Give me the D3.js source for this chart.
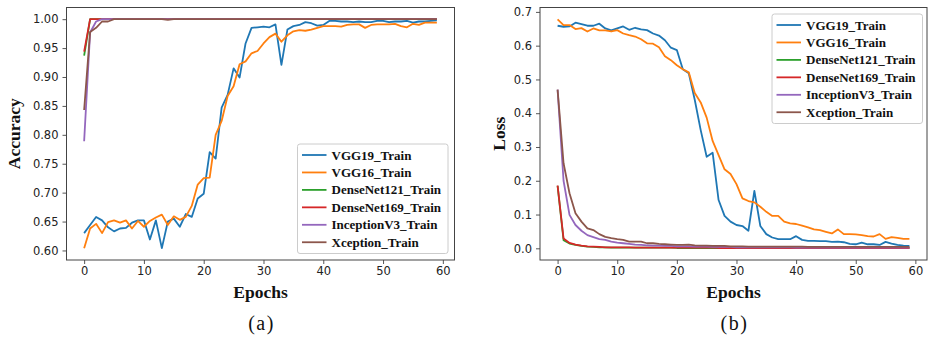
<!DOCTYPE html>
<html>
<head>
<meta charset="utf-8">
<script src="https://cdn.jsdelivr.net/npm/d3@7"></script>
<style>
  body { margin: 0; background: #fff; }
  svg { display: block; }
</style>
</head>
<body>
<div id="chart"></div>
<script>
// series names, in drawing order
const seriesNames = ["VGG19_Train", "VGG16_Train", "DenseNet121_Train", "DenseNet169_Train", "InceptionV3_Train", "Xception_Train"];
const seriesColors = ["#1f77b4", "#ff7f0e", "#2ca02c", "#d62728", "#9467bd", "#8c564b"];

const xTicks = [0, 10, 20, 30, 40, 50, 60];
const accTicks = [0.60, 0.65, 0.70, 0.75, 0.80, 0.85, 0.90, 0.95, 1.00];
const lossTicks = [0.0, 0.1, 0.2, 0.3, 0.4, 0.5, 0.6, 0.7];

// (a) training accuracy per epoch
const vgg19Acc = [
  0.630, 0.644, 0.658, 0.652, 0.640, 0.633, 0.638, 0.639, 0.648, 0.652,
  0.652, 0.619, 0.652, 0.604, 0.650, 0.655, 0.641, 0.663, 0.658, 0.690,
  0.698, 0.770, 0.759, 0.847, 0.869, 0.915, 0.899, 0.958, 0.985, 0.986,
  0.987, 0.986, 0.991, 0.921, 0.982, 0.988, 0.990, 0.995, 0.993, 0.989,
  0.990, 0.997, 0.997, 0.996, 0.996, 0.995, 0.996, 0.995, 0.995, 0.997,
  0.997, 0.995, 0.996, 0.996, 0.997, 0.994, 0.996, 0.996, 0.997, 0.998
];
const vgg16Acc = [
  0.604, 0.638, 0.646, 0.630, 0.649, 0.652, 0.648, 0.652, 0.638, 0.651,
  0.641, 0.651, 0.657, 0.662, 0.644, 0.659, 0.653, 0.658, 0.677, 0.714,
  0.725, 0.726, 0.800, 0.824, 0.867, 0.884, 0.922, 0.927, 0.941, 0.945,
  0.958, 0.969, 0.975, 0.961, 0.972, 0.979, 0.981, 0.980, 0.982, 0.985,
  0.988, 0.988, 0.988, 0.987, 0.990, 0.991, 0.991, 0.985, 0.990, 0.991,
  0.991, 0.991, 0.992, 0.988, 0.986, 0.992, 0.990, 0.994, 0.994, 0.994
];
const densenet121Acc = [
  0.937, 1.000, 1.000, 1.000, 1.000, 1.000, 1.000, 1.000, 1.000, 1.000,
  1.000, 1.000, 1.000, 1.000, 1.000, 1.000, 1.000, 1.000, 1.000, 1.000,
  1.000, 1.000, 1.000, 1.000, 1.000, 1.000, 1.000, 1.000, 1.000, 1.000,
  1.000, 1.000, 1.000, 1.000, 1.000, 1.000, 1.000, 1.000, 1.000, 1.000,
  1.000, 1.000, 1.000, 1.000, 1.000, 1.000, 1.000, 1.000, 1.000, 1.000,
  1.000, 1.000, 1.000, 1.000, 1.000, 1.000, 1.000, 1.000, 1.000, 1.000
];
const densenet169Acc = [
  0.944, 1.000, 1.000, 1.000, 1.000, 1.000, 1.000, 1.000, 1.000, 1.000,
  1.000, 1.000, 1.000, 1.000, 1.000, 1.000, 1.000, 1.000, 1.000, 1.000,
  1.000, 1.000, 1.000, 1.000, 1.000, 1.000, 1.000, 1.000, 1.000, 1.000,
  1.000, 1.000, 1.000, 1.000, 1.000, 1.000, 1.000, 1.000, 1.000, 1.000,
  1.000, 1.000, 1.000, 1.000, 1.000, 1.000, 1.000, 1.000, 1.000, 1.000,
  1.000, 1.000, 1.000, 1.000, 1.000, 1.000, 1.000, 1.000, 1.000, 1.000
];
const inceptionAcc = [
  0.789, 0.977, 0.996, 1.000, 1.000, 1.000, 1.000, 1.000, 1.000, 1.000,
  1.000, 1.000, 1.000, 1.000, 1.000, 1.000, 1.000, 1.000, 1.000, 1.000,
  1.000, 1.000, 1.000, 1.000, 1.000, 1.000, 1.000, 1.000, 1.000, 1.000,
  1.000, 1.000, 1.000, 1.000, 1.000, 1.000, 1.000, 1.000, 1.000, 1.000,
  1.000, 1.000, 1.000, 1.000, 1.000, 1.000, 1.000, 1.000, 1.000, 1.000,
  1.000, 1.000, 1.000, 1.000, 1.000, 1.000, 1.000, 1.000, 1.000, 1.000
];
const xceptionAcc = [
  0.843, 0.978, 0.985, 0.996, 0.996, 1.000, 1.000, 1.000, 1.000, 1.000,
  1.000, 1.000, 1.000, 1.000, 0.999, 1.000, 1.000, 1.000, 1.000, 1.000,
  1.000, 1.000, 1.000, 1.000, 1.000, 1.000, 1.000, 1.000, 1.000, 1.000,
  1.000, 1.000, 1.000, 1.000, 1.000, 1.000, 1.000, 1.000, 1.000, 1.000,
  1.000, 1.000, 1.000, 1.000, 1.000, 1.000, 1.000, 1.000, 1.000, 1.000,
  1.000, 1.000, 1.000, 1.000, 1.000, 1.000, 1.000, 1.000, 1.000, 1.000
];

// (b) training loss per epoch
const vgg19Loss = [
  0.659, 0.656, 0.657, 0.668, 0.664, 0.659, 0.659, 0.665, 0.651, 0.645,
  0.651, 0.657, 0.647, 0.653, 0.648, 0.646, 0.636, 0.630, 0.616, 0.594,
  0.587, 0.530, 0.518, 0.440, 0.350, 0.271, 0.283, 0.143, 0.096, 0.079,
  0.069, 0.066, 0.052, 0.170, 0.066, 0.042, 0.032, 0.027, 0.027, 0.027,
  0.036, 0.025, 0.022, 0.022, 0.021, 0.021, 0.019, 0.020, 0.018, 0.013,
  0.012, 0.017, 0.012, 0.012, 0.010, 0.019, 0.014, 0.010, 0.008, 0.007
];
const vgg16Loss = [
  0.678, 0.661, 0.661, 0.649, 0.652, 0.642, 0.651, 0.645, 0.645, 0.642,
  0.646, 0.636, 0.631, 0.627, 0.619, 0.607, 0.606, 0.595, 0.569, 0.557,
  0.542, 0.530, 0.521, 0.460, 0.432, 0.387, 0.318, 0.276, 0.234, 0.220,
  0.190, 0.148, 0.140, 0.136, 0.123, 0.108, 0.096, 0.096, 0.079, 0.074,
  0.072, 0.067, 0.062, 0.056, 0.054, 0.049, 0.044, 0.056, 0.042, 0.042,
  0.041, 0.039, 0.036, 0.035, 0.042, 0.028, 0.033, 0.031, 0.028, 0.028
];
const densenet121Loss = [
  0.185, 0.024, 0.014, 0.010, 0.007, 0.005, 0.004, 0.003, 0.003, 0.002,
  0.002, 0.002, 0.002, 0.002, 0.002, 0.002, 0.002, 0.002, 0.002, 0.002,
  0.001, 0.001, 0.001, 0.001, 0.001, 0.001, 0.001, 0.001, 0.001, 0.001,
  0.001, 0.001, 0.001, 0.001, 0.001, 0.001, 0.001, 0.001, 0.001, 0.001,
  0.001, 0.001, 0.001, 0.001, 0.001, 0.001, 0.001, 0.001, 0.001, 0.001,
  0.001, 0.001, 0.001, 0.001, 0.001, 0.001, 0.001, 0.001, 0.001, 0.001
];
const densenet169Loss = [
  0.186, 0.029, 0.016, 0.011, 0.008, 0.006, 0.005, 0.004, 0.003, 0.003,
  0.003, 0.003, 0.003, 0.002, 0.002, 0.002, 0.002, 0.002, 0.002, 0.002,
  0.002, 0.002, 0.002, 0.002, 0.002, 0.002, 0.002, 0.001, 0.001, 0.001,
  0.001, 0.001, 0.001, 0.001, 0.001, 0.001, 0.001, 0.001, 0.001, 0.001,
  0.001, 0.001, 0.001, 0.001, 0.001, 0.001, 0.001, 0.001, 0.001, 0.001,
  0.001, 0.001, 0.001, 0.001, 0.001, 0.001, 0.001, 0.001, 0.001, 0.001
];
const inceptionLoss = [
  0.470, 0.200, 0.099, 0.069, 0.052, 0.039, 0.033, 0.027, 0.025, 0.020,
  0.017, 0.015, 0.013, 0.011, 0.010, 0.009, 0.008, 0.008, 0.007, 0.007,
  0.006, 0.006, 0.006, 0.005, 0.005, 0.005, 0.004, 0.004, 0.004, 0.004,
  0.003, 0.003, 0.003, 0.003, 0.003, 0.003, 0.003, 0.003, 0.003, 0.003,
  0.002, 0.002, 0.002, 0.002, 0.002, 0.002, 0.002, 0.002, 0.002, 0.002,
  0.002, 0.002, 0.002, 0.002, 0.002, 0.002, 0.002, 0.002, 0.002, 0.002
];
const xceptionLoss = [
  0.470, 0.252, 0.163, 0.104, 0.079, 0.059, 0.054, 0.042, 0.034, 0.030,
  0.027, 0.025, 0.020, 0.020, 0.020, 0.015, 0.015, 0.013, 0.012, 0.011,
  0.010, 0.010, 0.011, 0.009, 0.008, 0.008, 0.007, 0.007, 0.007, 0.006,
  0.006, 0.006, 0.005, 0.005, 0.005, 0.005, 0.005, 0.005, 0.005, 0.005,
  0.005, 0.005, 0.004, 0.004, 0.004, 0.004, 0.004, 0.004, 0.004, 0.004,
  0.004, 0.004, 0.004, 0.004, 0.004, 0.004, 0.004, 0.004, 0.004, 0.004
];

const accSeries = [vgg19Acc, vgg16Acc, densenet121Acc, densenet169Acc, inceptionAcc, xceptionAcc];
const lossSeries = [vgg19Loss, vgg16Loss, densenet121Loss, densenet169Loss, inceptionLoss, xceptionLoss];

const svg = d3.select("#chart")
    .append("svg")
    .attr("width", 929)
    .attr("height", 337);

const serif = "'Liberation Serif', 'Times New Roman', serif";
const sans = "'DejaVu Sans', sans-serif";

function drawPanel(opts) {
    const { series, left, right, top, bottom, yDomain, yTicks, yFormat,
            yLabel, yLabelX, caption, legend } = opts;

    const x = d3.scaleLinear().domain([-2.95, 61.95]).range([left, right]);
    const y = d3.scaleLinear().domain(yDomain).range([bottom, top]);

    const g = svg.append("g");

    // axes
    const xAxis = g.append("g")
        .attr("transform", `translate(0,${bottom})`)
        .call(d3.axisBottom(x).tickValues(xTicks).tickSize(4).tickSizeOuter(0).tickPadding(3));
    const yAxis = g.append("g")
        .attr("transform", `translate(${left},0)`)
        .call(d3.axisLeft(y).tickValues(yTicks).tickFormat(d3.format(yFormat)).tickSize(4).tickSizeOuter(0).tickPadding(4));

    [xAxis, yAxis].forEach((a) => {
        a.select(".domain").remove();
        a.selectAll("line").attr("stroke", "#444").attr("stroke-width", 0.9);
        a.selectAll("text")
            .attr("fill", "#222")
            .style("font-family", sans)
            .style("font-size", "11.5px");
    });

    // lines
    const line = d3.line()
        .x((d, i) => x(i))
        .y((d) => y(d));

    g.append("g")
        .selectAll("path")
        .data(series)
        .join("path")
        .attr("d", line)
        .attr("fill", "none")
        .attr("stroke", (d, i) => seriesColors[i])
        .attr("stroke-width", 1.8)
        .attr("stroke-linejoin", "round");

    // frame
    g.append("rect")
        .attr("x", left)
        .attr("y", top)
        .attr("width", right - left)
        .attr("height", bottom - top)
        .attr("fill", "none")
        .attr("stroke", "#444")
        .attr("stroke-width", 1);

    // axis labels
    g.append("text")
        .attr("x", (left + right) / 2)
        .attr("y", 298)
        .attr("text-anchor", "middle")
        .style("font-family", serif)
        .style("font-weight", "bold")
        .style("font-size", "17.5px")
        .attr("fill", "#111")
        .text("Epochs");

    g.append("text")
        .attr("transform", `translate(${yLabelX},${(top + bottom) / 2}) rotate(-90)`)
        .attr("text-anchor", "middle")
        .style("font-family", serif)
        .style("font-weight", "bold")
        .style("font-size", "17.5px")
        .attr("fill", "#111")
        .text(yLabel);

    g.append("text")
        .attr("x", (left + right) / 2 + 1)
        .attr("y", 330)
        .attr("text-anchor", "middle")
        .style("font-family", serif)
        .style("font-size", "20px")
        .style("letter-spacing", "1.5px")
        .attr("fill", "#111")
        .text(caption);

    // legend
    const lg = g.append("g").attr("transform", `translate(${legend.x},${legend.y})`);
    lg.append("rect")
        .attr("width", 150.5)
        .attr("height", 109.5)
        .attr("rx", 2.5)
        .attr("fill", "#fff")
        .attr("fill-opacity", 0.8)
        .attr("stroke", "#ccc")
        .attr("stroke-width", 1);

    const row = lg.selectAll("g.row")
        .data(seriesNames)
        .join("g")
        .attr("class", "row")
        .attr("transform", (d, i) => `translate(0,${11 + i * 17.45})`);

    row.append("line")
        .attr("x1", 4.5)
        .attr("x2", 29)
        .attr("stroke", (d, i) => seriesColors[i])
        .attr("stroke-width", 1.8);

    row.append("text")
        .attr("x", 34)
        .attr("y", 4.5)
        .style("font-family", serif)
        .style("font-weight", "bold")
        .style("font-size", "13px")
        .attr("fill", "#111")
        .text((d) => d);
}

drawPanel({
    series: accSeries,
    left: 66.5, right: 454.5, top: 7.5, bottom: 260,
    yDomain: [0.5835, 1.0202],
    yTicks: accTicks,
    yFormat: ".2f",
    yLabel: "Accuracy",
    yLabelX: 20,
    caption: "(a)",
    legend: { x: 297.5, y: 144 }
});

drawPanel({
    series: lossSeries,
    left: 540, right: 927, top: 7.5, bottom: 260,
    yDomain: [-0.0346, 0.713],
    yTicks: lossTicks,
    yFormat: ".1f",
    yLabel: "Loss",
    yLabelX: 505,
    caption: "(b)",
    legend: { x: 772, y: 14 }
});
</script>
</body>
</html>
